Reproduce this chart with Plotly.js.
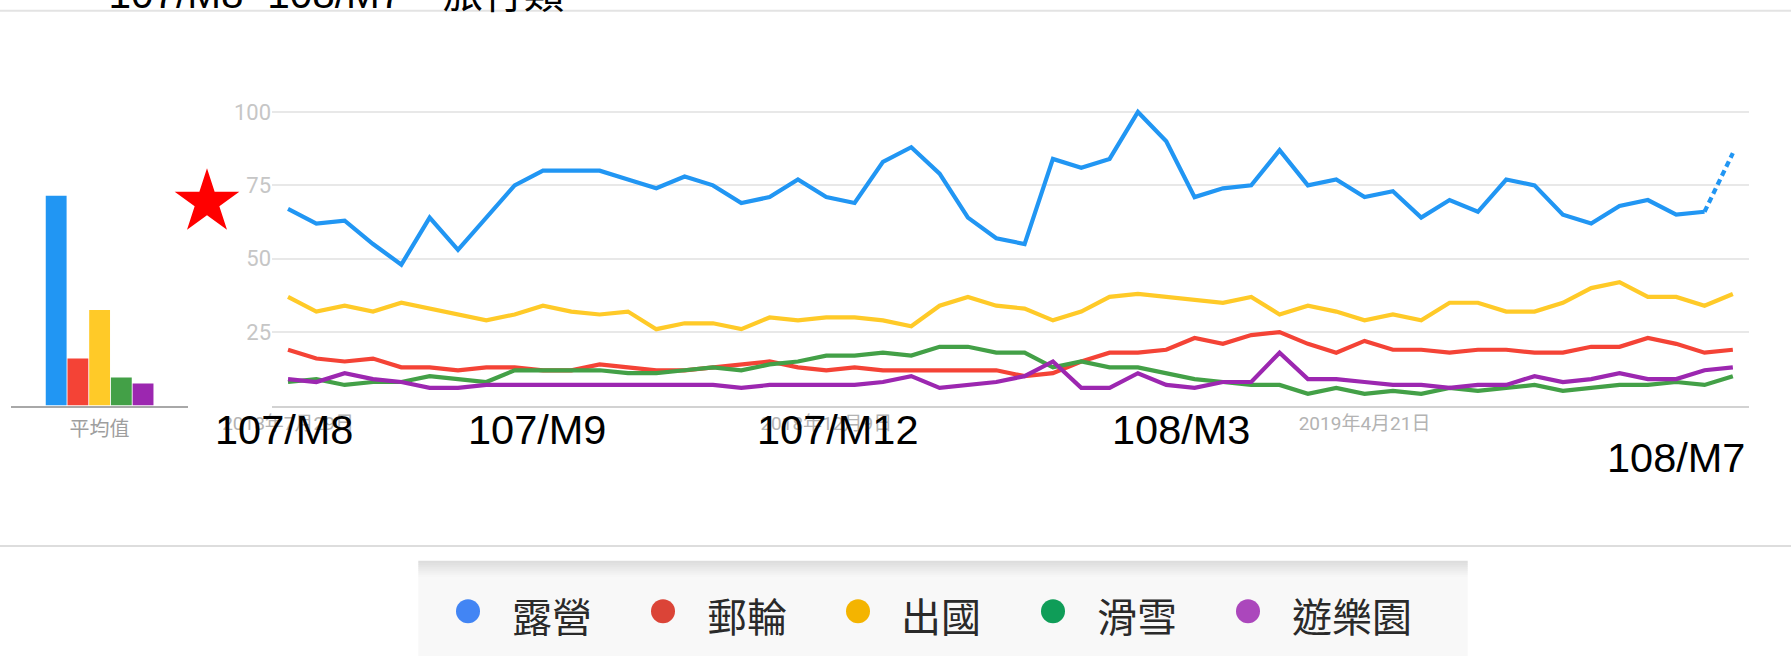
<!DOCTYPE html>
<html><head><meta charset="utf-8">
<script src="https://cdn.plot.ly/plotly-3.0.1.min.js"></script>
<style>html,body{margin:0;padding:0;background:#fff;overflow:hidden}#chart{width:1791px;height:656px}</style>
</head><body><div id="chart"></div>
<script>
// ---------------- data ----------------
const weeks = ['2018-07-29','2018-08-05','2018-08-12','2018-08-19','2018-08-26','2018-09-02','2018-09-09','2018-09-16','2018-09-23','2018-09-30',
  '2018-10-07','2018-10-14','2018-10-21','2018-10-28','2018-11-04','2018-11-11','2018-11-18','2018-11-25','2018-12-02','2018-12-09',
  '2018-12-16','2018-12-23','2018-12-30','2019-01-06','2019-01-13','2019-01-20','2019-01-27','2019-02-03','2019-02-10','2019-02-17',
  '2019-02-24','2019-03-03','2019-03-10','2019-03-17','2019-03-24','2019-03-31','2019-04-07','2019-04-14','2019-04-21','2019-04-28',
  '2019-05-05','2019-05-12','2019-05-19','2019-05-26','2019-06-02','2019-06-09','2019-06-16','2019-06-23','2019-06-30','2019-07-07',
  '2019-07-14','2019-07-21'];
const seriesNames = ['露營','郵輪','出國','滑雪','遊樂園'];
const camping = [67,62,63,55,48,64,53,64,75,80, 80,80,77,74,78,75,69,71,77,71, 69,83,88,79,64,57,55,84,81,84,
  100,90,71,74,75,87,75,77,71,73, 64,70,66,77,75,65,62,68,70,65, 66,86];
const cruise = [19,16,15,16,13,13,12,13,13,12, 12,14,13,12,12,13,14,15,13,12, 13,12,12,12,12,12,10,11,15,18,
  18,19,23,21,24,25,21,18,22,19, 19,18,19,19,18,18,20,20,23,21, 18,19];
const abroad = [37,32,34,32,35,33,31,29,31,34, 32,31,32,26,28,28,26,30,29,30, 30,29,27,34,37,34,33,29,32,37,
  38,37,36,35,37,31,34,32,29,31, 29,35,35,32,32,35,40,42,37,37, 34,38];
const skiing = [8,9,7,8,8,10,9,8,12,12, 12,12,11,11,12,13,12,14,15,17, 17,18,17,20,20,18,18,13,15,13,
  13,11,9,8,7,7,4,6,4,5, 4,6,5,6,7,5,6,7,7,8, 7,10];
const themePark = [9,8,11,9,8,6,6,7,7,7, 7,7,7,7,7,7,6,7,7,7, 7,8,10,6,7,8,10,15,6,6,
  11,7,6,8,8,18,9,9,8,7, 7,6,7,7,10,8,9,11,9,9, 12,13];
const averages = [71.5,16,32.5,9.5,7.5];
const dateTickVals = ['2018-07-29','2018-12-09','2019-04-21'];
const dateTickText = ['2018年7月29日','2018年12月9日','2019年4月21日'];
const yTickVals = [25,50,75,100];
const monthLabels = ['107/M8','107/M9','107/M12','108/M3','108/M7'];
const averageLabel = '平均值';
const titleText = '107/M8~108/M7　旅行類';

// ---------------- styling / layout ----------------
const W = 1791, H = 656;
const px = x => x / W;
const py = y => 1 - y / H;
const WEEK = 7 * 24 * 3600 * 1000;
const lineColors = ['#2196F3','#F44336','#FFCA28','#43A047','#9C27B0'];
const dotColors = ['#4285F4','#DB4437','#F4B400','#0F9D58','#AB47BC'];
const series = [camping, cruise, abroad, skiing, themePark];
const LW = 4.2;

const traces = [];
series.forEach((vals, i) => {
  if (i === 0) {
    traces.push({x: weeks.slice(0, -1), y: vals.slice(0, -1), type: 'scatter', mode: 'lines', name: seriesNames[i],
      line: {color: lineColors[i], width: LW}, hoverinfo: 'skip'});
    traces.push({x: weeks.slice(-2), y: vals.slice(-2), type: 'scatter', mode: 'lines', name: seriesNames[i],
      line: {color: lineColors[i], width: LW, dash: '6px,4px'}, hoverinfo: 'skip'});
  } else {
    traces.push({x: weeks, y: vals, type: 'scatter', mode: 'lines', name: seriesNames[i],
      line: {color: lineColors[i], width: LW}, hoverinfo: 'skip'});
  }
});
traces.push({x: averages.map((_, i) => i), y: averages, type: 'bar', xaxis: 'x2', yaxis: 'y2',
  width: 0.96, marker: {color: lineColors, line: {width: 0}}, hoverinfo: 'skip'});

const t0 = Date.parse(weeks[0]);
const yDomain = [py(405.5), py(97.3)];

const shapes = [];
shapes.push({type: 'line', xref: 'paper', yref: 'paper', x0: 0, x1: 1, y0: py(10.7), y1: py(10.7), line: {color: '#e3e3e3', width: 2}});
shapes.push({type: 'line', xref: 'paper', yref: 'paper', x0: 0, x1: 1, y0: py(546), y1: py(546), line: {color: '#dddddd', width: 2}});
// legend panel
const boxL = 418.3, boxR = 1467.7, boxT = 560.7;
shapes.push({type: 'rect', xref: 'paper', yref: 'paper', x0: px(boxL), x1: px(boxR), y0: py(656), y1: py(boxT + 16), fillcolor: '#f8f8f8', line: {width: 0}});
for (let k = 0; k < 8; k++) {
  const c = Math.round(0xdd + (0xf6 - 0xdd) * (k / 7));
  const hex = c.toString(16);
  shapes.push({type: 'rect', xref: 'paper', yref: 'paper', x0: px(boxL), x1: px(boxR),
    y0: py(boxT + 2 * k + 2.2), y1: py(boxT + 2 * k), fillcolor: '#' + hex + hex + hex, line: {width: 0}});
}
const annotations = [];
seriesNames.forEach((name, i) => {
  const cx = 468 + 195 * i, cy = 611.3, r = 12;
  shapes.push({type: 'circle', xref: 'paper', yref: 'paper', x0: px(cx - r), x1: px(cx + r), y0: py(cy + r), y1: py(cy - r),
    fillcolor: dotColors[i], line: {width: 0}});
  annotations.push({text: name, xref: 'paper', yref: 'paper', x: px(509.5 + 195 * i), y: py(615), xanchor: 'left', yanchor: 'middle',
    showarrow: false, font: {family: 'Noto Sans CJK TC', size: 40, color: '#2a2a2a'}});
});
// red star
(function () {
  const cx = 207, cy = 202.3, R = 34, r = 34 * 0.382;
  let d = '';
  for (let k = 0; k < 10; k++) {
    const a = (-90 + 36 * k) * Math.PI / 180;
    const rad = k % 2 ? r : R;
    d += (k ? 'L' : 'M') + px(cx + rad * Math.cos(a)).toFixed(5) + ',' + py(cy + rad * Math.sin(a)).toFixed(5);
  }
  d += 'Z';
  shapes.push({type: 'path', xref: 'paper', yref: 'paper', path: d, fillcolor: '#ff0000', line: {width: 0}});
})();
// big month labels
const labelPos = [[215, 429], [468.3, 429], [756.5, 429], [1112, 429], [1607, 458]];
monthLabels.forEach((t, i) => {
  annotations.push({text: t, xref: 'paper', yref: 'paper', x: px(labelPos[i][0] - 2), y: py(labelPos[i][1]), xanchor: 'left', yanchor: 'middle',
    showarrow: false, font: {family: 'Liberation Sans, Arial', size: 41.5, color: '#000'}});
});

const layout = {
  width: W, height: H,
  margin: {l: 0, r: 0, t: 0, b: 0},
  paper_bgcolor: '#ffffff', plot_bgcolor: 'rgba(0,0,0,0)',
  showlegend: false,
  title: {text: titleText, font: {family: 'Liberation Sans, Arial, Noto Sans CJK TC', size: 40.5, color: '#000'},
    xref: 'container', yref: 'container', x: px(108.5), xanchor: 'left', y: 1 - 7.5 / H, yanchor: 'bottom', pad: {t: 0, b: 0, l: 0, r: 0}},
  xaxis: {type: 'date', domain: [px(272), px(1749)], range: [t0 - 0.565 * WEEK, t0 + 51.57 * WEEK],
    tickvals: dateTickVals, ticktext: dateTickText, tickfont: {family: 'Roboto, Noto Sans CJK TC', size: 19, color: '#b3b3b3'},
    showgrid: false, zeroline: false, showline: true, linecolor: '#d2d2d2', linewidth: 2, ticks: '', anchor: 'y'},
  yaxis: {domain: yDomain, range: [0, 105], tickvals: yTickVals, tickfont: {family: 'Roboto', size: 22, color: '#c6c6c6'},
    showgrid: true, gridcolor: '#e8e8e8', gridwidth: 2, zeroline: false, showline: false, ticks: '', anchor: 'x'},
  xaxis2: {domain: [px(11), px(188)], anchor: 'y2', range: [-2.08, 6.07], tickvals: [2], ticktext: [averageLabel],
    tickfont: {family: 'Roboto, Noto Sans CJK TC', size: 20, color: '#9e9e9e'}, showline: true, linecolor: '#a8a8a8', linewidth: 2,
    showgrid: false, zeroline: false, ticks: '', ticklabelstandoff: 4},
  yaxis2: {domain: yDomain, anchor: 'x2', range: [0, 105], visible: false},
  shapes: shapes,
  annotations: annotations
};
Plotly.newPlot('chart', traces, layout, {staticPlot: true, displayModeBar: false});
</script>
</body></html>
